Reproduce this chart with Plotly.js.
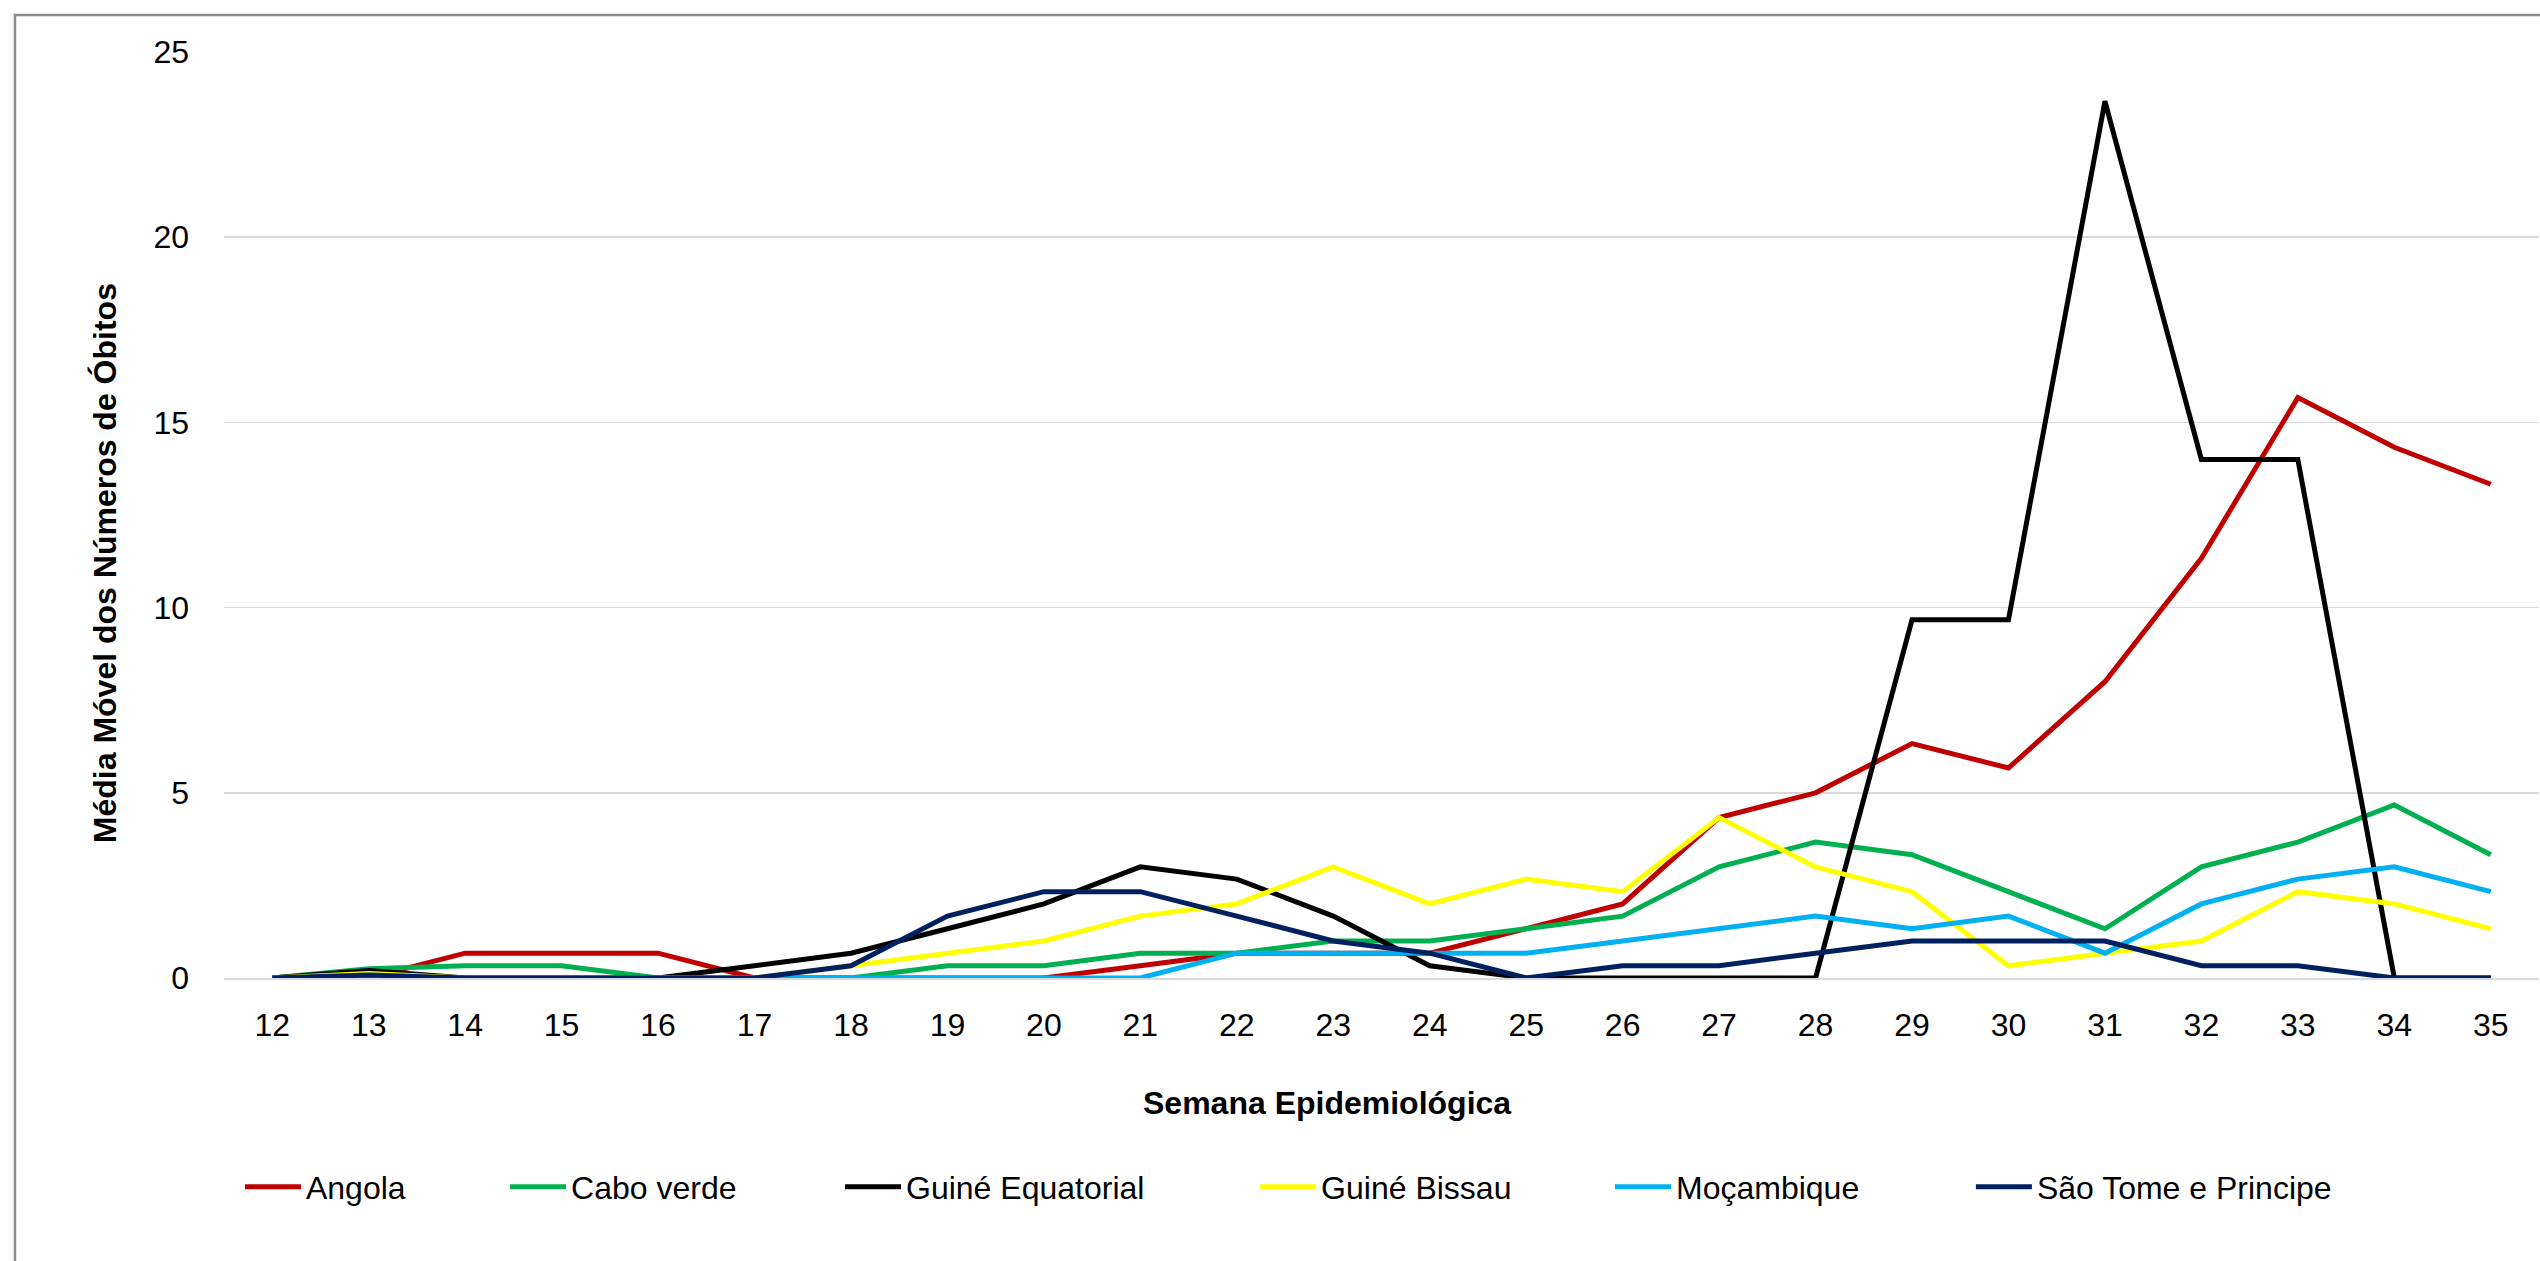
<!DOCTYPE html>
<html>
<head>
<meta charset="utf-8">
<script src="https://cdn.plot.ly/plotly-3.0.1.min.js"></script>
<style>
  html, body { margin: 0; padding: 0; background: #ffffff; }
  #chart { width: 2540px; height: 1261px; }
</style>
</head>
<body>
<div id="chart"></div>
<script>
// ---- Data ----
const weeks = ['12','13','14','15','16','17','18','19','20','21','22','23','24','25','26','27','28','29','30','31','32','33','34','35'];

const seriesNames = ['Angola', 'Cabo verde', 'Guiné Equatorial', 'Guiné Bissau', 'Moçambique', 'São Tome e Principe'];

const angola        = [0, 0, 0.67, 0.67, 0.67, 0, 0, 0, 0, 0.33, 0.67, 0.67, 0.67, 1.33, 2, 4.33, 5, 6.33, 5.67, 8, 11.33, 15.67, 14.33, 13.33];
const caboVerde     = [0, 0.25, 0.33, 0.33, 0, 0, 0, 0.33, 0.33, 0.67, 0.67, 1, 1, 1.33, 1.67, 3, 3.67, 3.33, 2.33, 1.33, 3, 3.67, 4.67, 3.33];
const guineEquat    = [0, 0.2, 0, 0, 0, 0.33, 0.67, 1.33, 2, 3, 2.67, 1.67, 0.33, 0, 0, 0, 0, 9.67, 9.67, 23.67, 14, 14, 0, 0];
const guineBissau   = [0, 0.12, 0, 0, 0, 0, 0.33, 0.67, 1, 1.67, 2, 3, 2, 2.67, 2.33, 4.33, 3, 2.33, 0.33, 0.67, 1, 2.33, 2, 1.33];
const mocambique    = [0, 0, 0, 0, 0, 0, 0, 0, 0, 0, 0.67, 0.67, 0.67, 0.67, 1, 1.33, 1.67, 1.33, 1.67, 0.67, 2, 2.67, 3, 2.33];
const saoTome       = [0, 0.08, 0, 0, 0, 0, 0.33, 1.67, 2.33, 2.33, 1.67, 1, 0.67, 0, 0.33, 0.33, 0.67, 1, 1, 1, 0.33, 0.33, 0, 0];

const yTickVals = [0, 5, 10, 15, 20, 25];

const xTitle = 'Semana Epidemiológica';
const yTitle = 'Média Móvel dos Números de Óbitos';

// ---- Styling ----
const seriesValues = [angola, caboVerde, guineEquat, guineBissau, mocambique, saoTome];
const colors = ['#C00000', '#00B050', '#000000', '#FFFF00', '#00B0F0', '#002060'];
const legendIds = ['legend', 'legend2', 'legend3', 'legend4', 'legend5', 'legend6'];
const legendX = [0.0069, 0.1214, 0.2661, 0.4454, 0.5987, 0.7546];

const FONT = '"Liberation Sans", Arial, sans-serif';

const traces = seriesNames.map((name, i) => ({
  type: 'scatter',
  mode: 'lines',
  name: name,
  x: weeks,
  y: seriesValues[i],
  line: { color: colors[i], width: 5 },
  legend: legendIds[i],
  hoverinfo: 'skip'
}));

const layout = {
  width: 2540,
  height: 1261,
  margin: { l: 224, r: 1, t: 52, b: 283, pad: 0 },
  paper_bgcolor: '#ffffff',
  plot_bgcolor: '#ffffff',
  font: { family: FONT, size: 32, color: '#000000' },
  xaxis: {
    type: 'category',
    range: [-0.5, weeks.length - 0.5],
    showgrid: false,
    showline: true,
    linecolor: '#D9D9D9',
    linewidth: 1.5,
    ticks: '',
    ticklabelstandoff: 18,
    tickfont: { family: FONT, size: 32, color: '#000000' },
    zeroline: false,
    fixedrange: true
  },
  yaxis: {
    range: [0, 25],
    tickvals: yTickVals,
    showgrid: true,
    gridcolor: '#D9D9D9',
    gridwidth: 1.5,
    zeroline: false,
    showline: false,
    ticks: '',
    ticklabelstandoff: 34,
    tickfont: { family: FONT, size: 32, color: '#000000' },
    fixedrange: true
  },
  annotations: [
    {
      text: '<b>' + yTitle + '</b>',
      xref: 'paper', yref: 'paper',
      x: -0.0514, y: 0.448,
      xanchor: 'center', yanchor: 'middle',
      textangle: -90,
      showarrow: false,
      font: { family: FONT, size: 32, color: '#000000' }
    },
    {
      text: '<b>' + xTitle + '</b>',
      xref: 'paper', yref: 'paper',
      x: 0.4765, y: -0.135,
      xanchor: 'center', yanchor: 'middle',
      showarrow: false,
      font: { family: FONT, size: 32, color: '#000000' }
    }
  ],
  shapes: [
    {
      type: 'rect', xref: 'paper', yref: 'paper',
      x0: -0.0903, x1: 1.03, y0: -0.45, y1: 1.0400,
      line: { color: '#8C8C8C', width: 2.5 },
      fillcolor: 'rgba(0,0,0,0)',
      layer: 'below'
    }
  ],
  showlegend: true
};

legendIds.forEach((id, i) => {
  layout[id] = {
    orientation: 'h',
    x: legendX[i],
    xanchor: 'left',
    y: -0.2257,
    yanchor: 'middle',
    itemwidth: 56,
    bgcolor: 'rgba(0,0,0,0)',
    borderwidth: 0,
    font: { family: FONT, size: 32, color: '#000000' },
    itemclick: false,
    itemdoubleclick: false
  };
});

Plotly.newPlot('chart', traces, layout, { displayModeBar: false, staticPlot: true });
</script>
</body>
</html>
